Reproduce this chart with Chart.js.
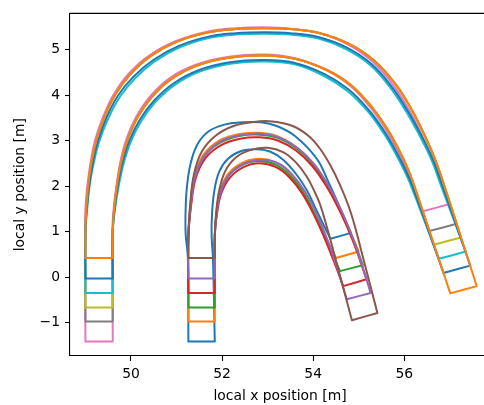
<!DOCTYPE html>
<html><head><meta charset="utf-8">
<script src="https://cdn.jsdelivr.net/npm/chart.js@4/dist/chart.umd.min.js"></script>
<style>html,body{margin:0;padding:0;background:#fff;overflow:hidden;}#wrap{width:500px;height:405px;}</style>
</head><body><div id="wrap"><canvas id="c" width="500" height="405"></canvas></div>
<script>
// ---- data (metres) ----
const xTicks = [50, 52, 54, 56];
const yTicks = [-1, 0, 1, 2, 3, 4, 5];
const bigBoxX = [49.00, 49.60];
const midBoxX = [51.26, 51.84];
const startY = [-1.42, -0.98, -0.67, -0.35, -0.03, 0.42, -1.42, -0.98, -0.67, -0.35, -0.03, 0.42];
const capOuter = [[54.83,0.97],[55.00,0.56],[55.09,0.26],[55.17,-0.05],[55.26,-0.35],[55.41,-0.79],
                  [56.98,1.60],[57.15,1.17],[57.25,0.87],[57.35,0.56],[57.45,0.25],[57.59,-0.20]];
const capInner = [[54.38,0.84],[54.50,0.42],[54.59,0.13],[54.66,-0.20],[54.74,-0.49],[54.85,-0.95],
                  [56.39,1.44],[56.55,1.01],[56.65,0.71],[56.76,0.40],[56.86,0.09],[57.01,-0.36]];

// middle group edges
const midBlueOuter = [[51.25,0.40],[51.20,0.95],[51.20,1.50],[51.23,2.00],[51.31,2.50],[51.46,2.92],[51.70,3.20],[52.05,3.35],[52.45,3.40],[52.85,3.40],[53.20,3.32],[53.60,3.10],[54.08,2.60],[54.32,2.12],[54.52,1.68],[54.68,1.30]];
const midBlueInner = [[51.80,0.40],[51.77,0.90],[51.78,1.40],[51.83,1.90],[51.94,2.32],[52.13,2.60],[52.42,2.77],[52.75,2.81],[53.05,2.76],[53.34,2.58],[53.62,2.27],[53.86,1.91],[54.08,1.45],[54.25,1.10]];
const midOrangeOuter = [[51.26,0.90],[51.31,1.65],[51.40,2.25],[51.60,2.70],[51.92,2.99],[52.35,3.14],[52.80,3.17],[53.20,3.10],[53.60,2.88],[53.95,2.55],[54.27,2.10],[54.53,1.62],[54.76,1.12]];
const midOrangeInner = [[51.84,0.90],[51.87,1.40],[51.95,1.88],[52.12,2.25],[52.42,2.50],[52.80,2.60],[53.15,2.53],[53.45,2.32],[53.72,1.98],[53.97,1.52],[54.18,1.08],[54.35,0.72]];
const midGreenOuter = [[51.26,0.90],[51.32,1.65],[51.42,2.23],[51.62,2.67],[51.95,2.95],[52.38,3.10],[52.82,3.13],[53.22,3.06],[53.62,2.84],[53.98,2.50],[54.29,2.05],[54.56,1.55],[54.80,1.02],[54.96,0.62]];
const midGreenInner = [[51.84,0.90],[51.88,1.40],[51.96,1.86],[52.14,2.22],[52.44,2.46],[52.82,2.55],[53.17,2.47],[53.47,2.25],[53.74,1.92],[53.99,1.46],[54.21,0.98],[54.40,0.56]];
const midRedOuter = [[51.26,0.90],[51.33,1.65],[51.43,2.20],[51.64,2.62],[51.98,2.90],[52.40,3.04],[52.82,3.07],[53.22,3.00],[53.62,2.78],[53.98,2.44],[54.30,1.98],[54.58,1.46],[54.82,0.92],[55.00,0.45]];
const midRedInner = [[51.84,0.90],[51.89,1.40],[51.98,1.83],[52.16,2.17],[52.46,2.41],[52.82,2.50],[53.17,2.42],[53.47,2.20],[53.75,1.85],[54.00,1.40],[54.23,0.90],[54.44,0.38]];
const midPurpleOuter = [[51.26,0.90],[51.32,1.65],[51.42,2.24],[51.63,2.68],[51.97,2.98],[52.42,3.12],[52.88,3.15],[53.28,3.06],[53.68,2.82],[54.03,2.47],[54.34,2.00],[54.62,1.46],[54.86,0.88],[55.06,0.30]];
const midPurpleInner = [[51.84,0.90],[51.88,1.40],[51.97,1.87],[52.15,2.24],[52.48,2.49],[52.88,2.58],[53.25,2.49],[53.55,2.24],[53.82,1.88],[54.06,1.42],[54.29,0.88],[54.50,0.28]];
const midBrownOuter = [[51.26,0.90],[51.30,1.60],[51.38,2.25],[51.55,2.75],[51.85,3.10],[52.25,3.32],[52.70,3.41],[53.10,3.42],[53.55,3.32],[53.90,3.10],[54.15,2.82],[54.38,2.45],[54.60,2.00],[54.78,1.55],[54.92,1.10],[55.05,0.60]];
const midBrownInner = [[51.84,0.90],[51.87,1.40],[51.94,1.92],[52.08,2.35],[52.33,2.65],[52.65,2.80],[53.00,2.84],[53.35,2.74],[53.62,2.52],[53.85,2.22],[54.02,1.90],[54.15,1.60],[54.30,1.10],[54.44,0.59]];

// big group edges
const bigAOuter = [[49.00,1.00],[49.02,1.50],[49.06,2.00],[49.13,2.50],[49.24,3.00],[49.41,3.50],[49.65,4.00],[49.98,4.45],[50.42,4.85],[51.00,5.17],[51.70,5.38],[52.30,5.45],[52.90,5.47],[53.50,5.45],[54.15,5.36],[54.80,5.12],[55.35,4.75],[55.80,4.25],[56.15,3.70],[56.43,3.15],[56.67,2.60],[56.88,2.00]];
const bigAInner = [[49.60,1.00],[49.63,1.50],[49.69,2.00],[49.78,2.50],[49.92,3.00],[50.14,3.50],[50.45,3.95],[50.88,4.35],[51.45,4.65],[52.15,4.82],[52.90,4.87],[53.60,4.80],[54.30,4.55],[54.85,4.20],[55.30,3.72],[55.63,3.25],[55.88,2.80],[56.07,2.40],[56.22,2.00]];
const bigPinkOuter = [[48.99,1.00],[49.00,1.50],[49.04,2.00],[49.11,2.50],[49.21,3.00],[49.38,3.50],[49.62,4.01],[49.95,4.47],[50.40,4.87],[50.99,5.19],[51.70,5.40],[52.30,5.47],[52.90,5.49],[53.50,5.46],[54.14,5.36],[54.77,5.11],[55.31,4.73],[55.75,4.23],[56.10,3.68],[56.38,3.13],[56.61,2.58],[56.84,2.00]];
const bigPinkInner = [[49.59,1.00],[49.62,1.50],[49.68,2.00],[49.76,2.50],[49.89,3.00],[50.11,3.51],[50.42,3.97],[50.86,4.38],[51.44,4.67],[52.15,4.84],[52.90,4.89],[53.60,4.81],[54.29,4.55],[54.83,4.19],[55.27,3.71],[55.60,3.24],[55.85,2.79],[56.04,2.39],[56.19,2.00]];
const bigBlueOuter = [[49.00,1.00],[49.03,1.50],[49.08,2.00],[49.16,2.50],[49.28,3.00],[49.46,3.50],[49.71,3.98],[50.05,4.40],[50.49,4.77],[51.05,5.08],[51.72,5.29],[52.30,5.36],[52.90,5.38],[53.50,5.36],[54.13,5.27],[54.74,5.04],[55.28,4.68],[55.71,4.20],[56.07,3.66],[56.37,3.12],[56.63,2.58],[56.84,2.00]];
const bigBlueInner = [[49.60,1.00],[49.64,1.50],[49.71,2.00],[49.81,2.50],[49.96,2.98],[50.19,3.45],[50.51,3.88],[50.94,4.26],[51.50,4.55],[52.17,4.72],[52.90,4.77],[53.58,4.71],[54.25,4.46],[54.78,4.12],[55.23,3.66],[55.57,3.19],[55.82,2.76],[56.02,2.37],[56.18,2.00]];
const bigCyanOuter = [[49.00,1.00],[49.04,1.50],[49.09,2.00],[49.18,2.50],[49.31,3.00],[49.50,3.48],[49.75,3.95],[50.09,4.37],[50.52,4.74],[51.07,5.05],[51.73,5.26],[52.30,5.33],[52.90,5.35],[53.50,5.33],[54.12,5.24],[54.72,5.01],[55.25,4.66],[55.68,4.18],[56.04,3.64],[56.34,3.10],[56.60,2.57],[56.81,2.00]];
const bigCyanInner = [[49.60,1.00],[49.65,1.50],[49.73,2.00],[49.84,2.50],[49.99,2.96],[50.22,3.42],[50.54,3.85],[50.97,4.23],[51.52,4.52],[52.18,4.69],[52.90,4.74],[53.57,4.68],[54.22,4.43],[54.75,4.09],[55.20,3.64],[55.54,3.17],[55.79,2.75],[55.99,2.36],[56.15,2.00]];

const colors = ['#1f77b4','#ff7f0e','#2ca02c','#d62728','#9467bd','#8c564b','#e377c2','#7f7f7f','#bcbd22','#17becf','#1f77b4','#ff7f0e'];
const boxes = [midBoxX, midBoxX, midBoxX, midBoxX, midBoxX, midBoxX, bigBoxX, bigBoxX, bigBoxX, bigBoxX, bigBoxX, bigBoxX];
const outers = [midBlueOuter, midOrangeOuter, midGreenOuter, midRedOuter, midPurpleOuter, midBrownOuter, bigPinkOuter, bigAOuter, bigAOuter, bigCyanOuter, bigBlueOuter, bigAOuter];
const inners = [midBlueInner, midOrangeInner, midGreenInner, midRedInner, midPurpleInner, midBrownInner, bigPinkInner, bigAInner, bigAInner, bigCyanInner, bigBlueInner, bigAInner];

// ---- build closed outlines ----
const P = (a) => ({x: a[0], y: a[1]});
const datasets = colors.map((c, i) => {
  const b = boxes[i], y0 = startY[i];
  const pts = [];
  pts.push({x: b[0], y: y0});
  outers[i].forEach(p => pts.push(P(p)));
  pts.push(P(capOuter[i]), P(capOuter[i]));
  pts.push(P(capInner[i]), P(capInner[i]));
  inners[i].slice().reverse().forEach(p => pts.push(P(p)));
  pts.push({x: b[1], y: y0}, {x: b[1], y: y0});
  pts.push({x: b[0], y: y0});
  return { data: pts, borderColor: c, backgroundColor: c, showLine: true, fill: false,
           pointRadius: 0, borderWidth: 2, tension: 0.4, order: -i, borderJoinStyle: 'round', borderCapStyle: 'round' };
});

const framePlugin = { id: 'frame', afterDatasetsDraw(chart) {
  const {ctx, chartArea: a} = chart; ctx.save(); ctx.strokeStyle = '#000'; ctx.lineWidth = 1.1;
  ctx.beginPath(); ctx.moveTo(a.left, a.top); ctx.lineTo(a.right, a.top); ctx.lineTo(a.right, a.bottom); ctx.stroke(); ctx.restore(); } };

const font = {family: 'DejaVu Sans', size: 13.9};
const fmt = v => String(v).replace('-', '\u2212');
new Chart(document.getElementById('c'), {
  type: 'scatter',
  data: { datasets },
  options: {
    responsive: false, devicePixelRatio: 1, animation: false,
    layout: { padding: { top: 12, right: 10, left: 0, bottom: 0 } },
    plugins: { legend: { display: false }, tooltip: { enabled: false } },
    events: [],
    scales: {
      x: { type: 'linear', min: 48.661, max: 57.882,
        afterBuildTicks: s => { s.ticks = xTicks.map(v => ({value: v})); },
        afterFit: s => { s.height = 49; },
        grid: { display: true, drawOnChartArea: false, drawTicks: true, tickLength: 5, tickWidth: 1.1, tickColor: '#000' },
        border: { display: true, color: '#000', width: 1.1 },
        ticks: { color: '#000', font, padding: 5, maxRotation: 0, callback: fmt },
        title: { display: true, text: 'local x position [m]', color: '#000', font, padding: { top: 0, bottom: 0 } } },
      y: { type: 'linear', min: -1.736, max: 5.796,
        afterBuildTicks: s => { s.ticks = yTicks.map(v => ({value: v})); },
        afterFit: s => { s.width = 70; },
        grid: { display: true, drawOnChartArea: false, drawTicks: true, tickLength: 5, tickWidth: 1.1, tickColor: '#000' },
        border: { display: true, color: '#000', width: 1.1 },
        ticks: { color: '#000', font, padding: 5, callback: fmt },
        title: { display: true, text: 'local y position [m]', color: '#000', font, padding: { top: 12, bottom: 0 } } }
    }
  },
  plugins: [framePlugin]
});
</script></body></html>
